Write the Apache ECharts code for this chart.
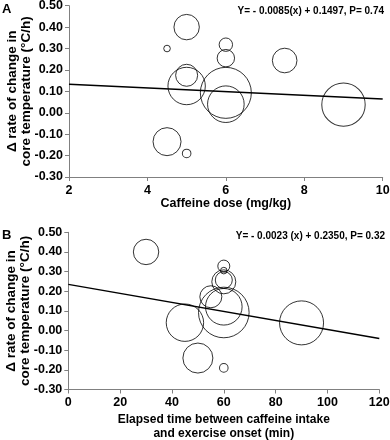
<!DOCTYPE html>
<html>
<head>
<meta charset="utf-8">
<script src="https://cdn.jsdelivr.net/npm/echarts@6/dist/echarts.min.js"></script>
<style>
html,body{margin:0;padding:0;background:#fff;}
#c{width:390px;height:440px;}
</style>
</head>
<body>
<div id="c"></div>
<script>
// Panel A: caffeine dose (mg/kg)
const doseX = [4.5, 5.0, 5.0, 5.0, 4.5, 5.0, 6.0, 6.0, 6.0, 6.0, 7.5, 9.0];
const doseY = [0.30, 0.40, 0.175, 0.125, -0.135, -0.19, 0.318, 0.255, 0.093, 0.04, 0.244, 0.038];
const doseW = [6.6, 25.4, 22, 37.4, 28, 8.6, 13.4, 17.4, 51, 36.6, 24.6, 43.4];
const doseLine = [[2, 0.1327], [10, 0.0647]];
const doseEq = 'Y= - 0.0085(x) + 0.1497, P= 0.74';

// Panel B: elapsed time (min)
const timeX = [30, 45, 50, 60, 55, 60, 60, 60, 60, 60, 60, 90];
const timeY = [0.40, 0.04, -0.14, -0.19, 0.172, 0.328, 0.305, 0.257, 0.248, 0.121, 0.092, 0.039];
const timeW = [25.4, 37.4, 30, 8.6, 22, 12, 6.6, 17, 24, 36.6, 50.6, 44];
const timeLine = [[0, 0.2350], [120, -0.041]];
const timeEq = 'Y= - 0.0023 (x) + 0.2350, P= 0.32';

const yTicks = [-0.30, -0.20, -0.10, 0.00, 0.10, 0.20, 0.30, 0.40, 0.50];

const FONT = '"Liberation Sans", Arial, sans-serif';
const chart = echarts.init(document.getElementById('c'), null, {renderer: 'canvas'});

function bubbles(xs, ys, ws) {
  return xs.map((x, i) => [x, ys[i], ws[i]]);
}
const axisLine = {show: true, onZero: false, lineStyle: {color: '#808080', width: 1}};
const axisTick = {show: true, length: 4, lineStyle: {color: '#808080'}};
const labelStyle = {color: '#000', fontWeight: 'bold', fontSize: 12.5, fontFamily: FONT};

function yAxis(gi) {
  return {
    gridIndex: gi, type: 'value', min: yTicks[0], max: yTicks[yTicks.length - 1], interval: 0.1,
    axisLine, axisTick, splitLine: {show: false},
    axisLabel: Object.assign({margin: 6, formatter: v => v.toFixed(2)}, labelStyle),
    name: 'Δ rate of change in\ncore temperature (°C/h)', nameLocation: 'middle', nameGap: 36,
    nameMoveOverlap: false,
    nameTextStyle: {color: '#000', fontWeight: 'bold', fontSize: 13.5, fontFamily: FONT, lineHeight: 14}
  };
}

const option = {
  animation: false,
  backgroundColor: '#fff',
  grid: [
    {left: 69, top: 5.7, width: 313.7, height: 171.3, containLabel: false, outerBoundsMode: 'none'},
    {left: 68.3, top: 232.3, width: 311, height: 157.2, containLabel: false, outerBoundsMode: 'none'}
  ],
  xAxis: [
    {gridIndex: 0, type: 'value', min: 2, max: 10, interval: 2, axisLine, axisTick,
     splitLine: {show: false}, axisLabel: Object.assign({margin: 7}, labelStyle),
     name: 'Caffeine dose (mg/kg)', nameLocation: 'middle', nameGap: 20, nameMoveOverlap: false,
     nameTextStyle: {color: '#000', fontWeight: 'bold', fontSize: 12.5, fontFamily: FONT}},
    {gridIndex: 1, type: 'value', min: 0, max: 120, interval: 20, axisLine, axisTick,
     splitLine: {show: false}, axisLabel: Object.assign({margin: 7}, labelStyle),
     name: 'Elapsed time between caffeine intake\nand exercise onset (min)', nameLocation: 'middle', nameGap: 23.5,
     nameMoveOverlap: false,
     nameTextStyle: {color: '#000', fontWeight: 'bold', fontSize: 12, fontFamily: FONT, lineHeight: 14}}
  ],
  yAxis: [yAxis(0), yAxis(1)],
  series: [
    {type: 'scatter', xAxisIndex: 0, yAxisIndex: 0, data: bubbles(doseX, doseY, doseW),
     symbolSize: d => d[2], itemStyle: {color: 'rgba(0,0,0,0)', borderColor: '#000', borderWidth: 1}, silent: true},
    {type: 'line', xAxisIndex: 0, yAxisIndex: 0, data: doseLine, showSymbol: false, symbol: 'none',
     lineStyle: {color: '#000', width: 1.5}, silent: true},
    {type: 'scatter', xAxisIndex: 1, yAxisIndex: 1, data: bubbles(timeX, timeY, timeW),
     symbolSize: d => d[2], itemStyle: {color: 'rgba(0,0,0,0)', borderColor: '#000', borderWidth: 1}, silent: true},
    {type: 'line', xAxisIndex: 1, yAxisIndex: 1, data: timeLine, showSymbol: false, symbol: 'none',
     lineStyle: {color: '#000', width: 1.5}, silent: true}
  ],
  graphic: [
    {type: 'text', left: 2, top: 3, style: {text: 'A', font: 'bold 13px ' + FONT, fill: '#000'}},
    {type: 'text', left: 2, top: 229, style: {text: 'B', font: 'bold 13px ' + FONT, fill: '#000'}},
    {type: 'text', right: 6, top: 6, style: {text: doseEq, font: 'bold 10px ' + FONT, fill: '#000'}},
    {type: 'text', right: 5, top: 231, style: {text: timeEq, font: 'bold 10px ' + FONT, fill: '#000'}}
  ]
};
chart.setOption(option);
</script>
</body>
</html>
